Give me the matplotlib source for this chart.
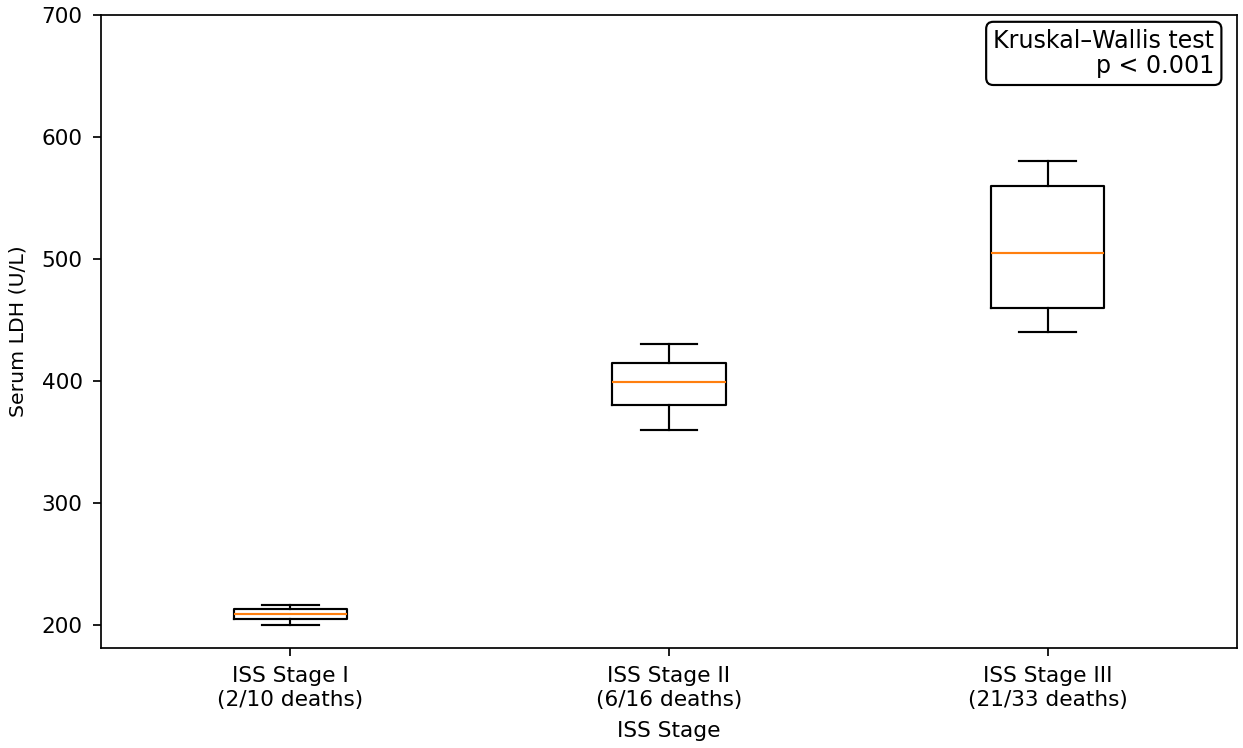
import matplotlib
matplotlib.use("Agg")
import matplotlib.pyplot as plt

# Summary statistics of serum LDH per ISS stage
stages = ["ISS Stage I\n(2/10 deaths)", "ISS Stage II\n(6/16 deaths)", "ISS Stage III\n(21/33 deaths)"]
whisker_low = [200, 360, 440]
q1 = [205, 380, 460]
median = [209, 399, 505]
q3 = [213, 415, 560]
whisker_high = [216, 430, 580]

stats = [
    {"label": s, "whislo": wl, "q1": a, "med": m, "q3": b, "whishi": wh, "fliers": []}
    for s, wl, a, m, b, wh in zip(stages, whisker_low, q1, median, q3, whisker_high)
]

DPI = 155.375
fig = plt.figure(figsize=(1243 / DPI, 748 / DPI), dpi=DPI)
ax = fig.add_axes([101 / 1243, 100 / 748, 1136 / 1243, 633 / 748])
ax.bxp(stats, positions=[1, 2, 3], widths=0.3, showfliers=False)

ax.set_xlim(0.5, 3.5)
ax.set_ylim(181, 700)
ax.set_xlabel("ISS Stage", fontsize=10, labelpad=5.5)
ax.set_ylabel("Serum LDH (U/L)", fontsize=9.5, labelpad=6.5)
ax.tick_params(axis="both", labelsize=10, pad=5)

ax.text(0.98, 0.978, "Kruskal\u2013Wallis test\np < 0.001", transform=ax.transAxes,
        ha="right", va="top", fontsize=11, multialignment="right", linespacing=1.05,
        bbox=dict(boxstyle="round,pad=0.3", facecolor="white", edgecolor="black"))

fig.savefig("out.png", dpi=DPI)
